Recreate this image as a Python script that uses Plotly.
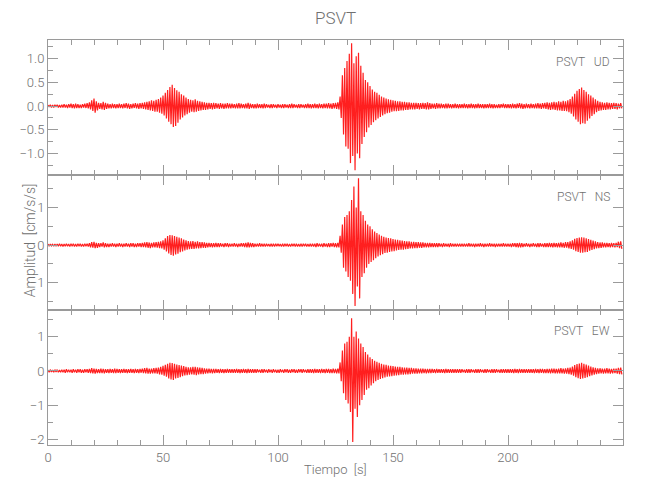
import plotly.graph_objects as go
from plotly.subplots import make_subplots

# ---- data: per-second peak (upper) and trough (lower magnitude) ----
time_s = list(range(250))

ud_upper = [
    0.02,0.03,0.02,0.03,0.03,0.02,0.03,0.04,0.03,0.04,
    0.05,0.04,0.05,0.04,0.03,0.04,0.05,0.06,0.08,0.12,
    0.16,0.10,0.07,0.06,0.09,0.07,0.05,0.04,0.05,0.04,
    0.04,0.05,0.04,0.05,0.06,0.05,0.04,0.05,0.06,0.05,
    0.06,0.07,0.08,0.09,0.10,0.12,0.11,0.13,0.15,0.18,
    0.22,0.28,0.34,0.40,0.45,0.38,0.33,0.30,0.25,0.22,
    0.18,0.15,0.13,0.12,0.14,0.11,0.10,0.09,0.08,0.07,
    0.07,0.06,0.07,0.06,0.05,0.06,0.05,0.05,0.06,0.05,
    0.05,0.04,0.05,0.06,0.05,0.04,0.05,0.07,0.05,0.04,
    0.04,0.05,0.04,0.04,0.05,0.04,0.03,0.04,0.04,0.03,
    0.04,0.03,0.04,0.04,0.03,0.04,0.05,0.04,0.03,0.04,
    0.04,0.03,0.04,0.05,0.04,0.04,0.05,0.04,0.05,0.04,
    0.05,0.05,0.06,0.05,0.06,0.07,0.08,0.20,0.65,0.80,
    0.95,1.10,1.32,0.90,1.05,1.12,0.85,0.70,0.55,0.50,
    0.42,0.35,0.30,0.28,0.24,0.20,0.18,0.16,0.14,0.13,
    0.12,0.11,0.10,0.10,0.09,0.09,0.08,0.08,0.07,0.07,
    0.07,0.06,0.06,0.07,0.06,0.08,0.06,0.05,0.05,0.06,
    0.05,0.05,0.04,0.05,0.05,0.04,0.04,0.05,0.04,0.04,
    0.04,0.05,0.04,0.04,0.05,0.04,0.04,0.05,0.04,0.04,
    0.04,0.04,0.05,0.04,0.04,0.03,0.04,0.04,0.05,0.04,
    0.04,0.04,0.05,0.04,0.05,0.06,0.05,0.04,0.05,0.04,
    0.05,0.04,0.05,0.06,0.05,0.06,0.07,0.08,0.07,0.08,
    0.09,0.08,0.10,0.09,0.11,0.10,0.12,0.15,0.20,0.26,
    0.32,0.36,0.39,0.34,0.30,0.25,0.22,0.18,0.14,0.11,
    0.09,0.08,0.07,0.08,0.07,0.06,0.07,0.06,0.05,0.06,
]
ud_lower = [
    0.02,0.03,0.03,0.02,0.03,0.03,0.03,0.03,0.04,0.03,
    0.04,0.05,0.04,0.04,0.04,0.03,0.04,0.05,0.07,0.10,
    0.14,0.09,0.06,0.07,0.08,0.06,0.05,0.05,0.04,0.05,
    0.04,0.04,0.05,0.04,0.05,0.06,0.05,0.04,0.05,0.06,
    0.05,0.06,0.07,0.08,0.09,0.10,0.12,0.12,0.14,0.16,
    0.20,0.26,0.33,0.38,0.44,0.42,0.35,0.28,0.24,0.20,
    0.17,0.14,0.12,0.13,0.12,0.10,0.09,0.08,0.08,0.07,
    0.06,0.07,0.06,0.05,0.06,0.05,0.06,0.05,0.05,0.05,
    0.04,0.05,0.05,0.05,0.04,0.05,0.05,0.06,0.04,0.05,
    0.05,0.04,0.04,0.05,0.04,0.03,0.04,0.04,0.03,0.04,
    0.03,0.04,0.04,0.03,0.04,0.04,0.04,0.03,0.04,0.04,
    0.03,0.04,0.04,0.04,0.05,0.04,0.04,0.05,0.04,0.05,
    0.04,0.05,0.05,0.06,0.05,0.06,0.07,0.25,0.60,0.85,
    0.90,1.20,1.05,1.35,1.00,1.10,0.80,0.65,0.55,0.45,
    0.40,0.34,0.30,0.26,0.23,0.20,0.17,0.15,0.14,0.12,
    0.11,0.11,0.10,0.09,0.09,0.08,0.08,0.07,0.07,0.07,
    0.06,0.07,0.06,0.06,0.07,0.07,0.06,0.05,0.06,0.05,
    0.05,0.04,0.05,0.05,0.04,0.05,0.04,0.04,0.05,0.04,
    0.04,0.04,0.05,0.04,0.04,0.05,0.04,0.04,0.04,0.05,
    0.04,0.04,0.04,0.05,0.04,0.04,0.04,0.03,0.04,0.04,
    0.04,0.05,0.04,0.05,0.04,0.05,0.06,0.05,0.04,0.05,
    0.04,0.05,0.05,0.05,0.06,0.05,0.06,0.07,0.08,0.07,
    0.08,0.09,0.09,0.10,0.10,0.11,0.13,0.16,0.22,0.28,
    0.33,0.38,0.36,0.37,0.31,0.26,0.21,0.17,0.13,0.10,
    0.09,0.08,0.08,0.07,0.07,0.06,0.06,0.07,0.05,0.05,
]
ns_upper = [
    0.03,0.03,0.02,0.03,0.03,0.04,0.03,0.03,0.04,0.03,
    0.04,0.04,0.03,0.04,0.04,0.03,0.04,0.04,0.05,0.08,
    0.09,0.06,0.05,0.05,0.07,0.05,0.04,0.04,0.05,0.04,
    0.04,0.05,0.04,0.04,0.05,0.04,0.05,0.05,0.04,0.05,
    0.05,0.06,0.07,0.08,0.07,0.06,0.07,0.08,0.09,0.10,
    0.13,0.18,0.24,0.27,0.26,0.24,0.22,0.20,0.18,0.15,
    0.13,0.11,0.10,0.11,0.09,0.10,0.08,0.08,0.07,0.06,
    0.06,0.05,0.05,0.06,0.05,0.05,0.04,0.05,0.05,0.04,
    0.04,0.05,0.04,0.04,0.05,0.05,0.06,0.07,0.06,0.05,
    0.04,0.04,0.05,0.04,0.04,0.04,0.03,0.04,0.04,0.04,
    0.04,0.03,0.04,0.04,0.04,0.03,0.04,0.04,0.04,0.03,
    0.04,0.04,0.04,0.03,0.04,0.04,0.04,0.05,0.04,0.04,
    0.05,0.04,0.05,0.05,0.06,0.05,0.06,0.25,0.55,0.75,
    0.80,0.90,1.20,1.56,1.00,1.78,0.90,0.80,0.65,0.55,
    0.50,0.42,0.36,0.32,0.28,0.25,0.22,0.20,0.19,0.18,
    0.16,0.15,0.14,0.13,0.12,0.11,0.10,0.10,0.09,0.09,
    0.08,0.08,0.07,0.07,0.06,0.06,0.06,0.05,0.05,0.05,
    0.05,0.04,0.05,0.04,0.04,0.05,0.04,0.04,0.04,0.04,
    0.04,0.04,0.04,0.05,0.04,0.04,0.04,0.04,0.05,0.04,
    0.04,0.04,0.05,0.04,0.04,0.04,0.04,0.04,0.05,0.04,
    0.04,0.04,0.05,0.05,0.05,0.06,0.05,0.04,0.05,0.04,
    0.04,0.05,0.04,0.05,0.05,0.04,0.05,0.05,0.06,0.05,
    0.06,0.05,0.06,0.07,0.06,0.08,0.08,0.10,0.13,0.17,
    0.19,0.20,0.21,0.20,0.18,0.16,0.14,0.12,0.10,0.08,
    0.07,0.07,0.06,0.06,0.05,0.06,0.05,0.06,0.09,0.10,
]
ns_lower = [
    0.03,0.02,0.03,0.03,0.03,0.03,0.04,0.03,0.03,0.04,
    0.03,0.04,0.04,0.03,0.04,0.04,0.03,0.04,0.06,0.07,
    0.08,0.07,0.05,0.04,0.06,0.05,0.05,0.04,0.04,0.05,
    0.04,0.04,0.05,0.04,0.04,0.05,0.04,0.05,0.05,0.04,
    0.05,0.05,0.06,0.07,0.08,0.06,0.06,0.07,0.08,0.09,
    0.12,0.17,0.22,0.26,0.28,0.25,0.23,0.19,0.17,0.14,
    0.12,0.11,0.10,0.10,0.09,0.09,0.08,0.07,0.07,0.06,
    0.05,0.06,0.05,0.05,0.05,0.04,0.05,0.04,0.05,0.04,
    0.04,0.04,0.05,0.04,0.04,0.05,0.06,0.06,0.05,0.05,
    0.04,0.04,0.04,0.04,0.04,0.03,0.04,0.04,0.04,0.03,
    0.03,0.04,0.04,0.03,0.04,0.04,0.03,0.04,0.04,0.04,
    0.04,0.03,0.04,0.04,0.04,0.04,0.05,0.04,0.04,0.05,
    0.04,0.05,0.05,0.04,0.05,0.06,0.06,0.20,0.60,0.70,
    0.85,0.95,1.30,1.62,1.10,1.42,0.85,0.75,0.60,0.50,
    0.45,0.40,0.35,0.30,0.27,0.24,0.21,0.20,0.18,0.17,
    0.16,0.14,0.13,0.12,0.12,0.11,0.10,0.09,0.09,0.08,
    0.08,0.07,0.07,0.06,0.06,0.06,0.05,0.05,0.05,0.05,
    0.04,0.05,0.04,0.04,0.05,0.04,0.04,0.04,0.04,0.04,
    0.04,0.04,0.04,0.04,0.04,0.05,0.04,0.04,0.04,0.05,
    0.04,0.04,0.04,0.04,0.05,0.04,0.04,0.04,0.04,0.04,
    0.04,0.05,0.04,0.05,0.06,0.06,0.05,0.04,0.04,0.05,
    0.04,0.04,0.05,0.05,0.04,0.05,0.05,0.05,0.05,0.06,
    0.05,0.06,0.06,0.06,0.07,0.07,0.09,0.10,0.12,0.16,
    0.18,0.20,0.20,0.19,0.18,0.15,0.13,0.11,0.09,0.08,
    0.07,0.06,0.06,0.05,0.06,0.05,0.06,0.05,0.08,0.10,
]
ew_upper = [
    0.03,0.04,0.03,0.04,0.04,0.03,0.04,0.04,0.05,0.04,
    0.04,0.05,0.04,0.05,0.05,0.04,0.05,0.05,0.06,0.08,
    0.07,0.06,0.05,0.07,0.06,0.05,0.05,0.06,0.05,0.07,
    0.06,0.05,0.05,0.06,0.05,0.05,0.06,0.05,0.06,0.05,
    0.06,0.07,0.08,0.09,0.07,0.07,0.08,0.09,0.10,0.12,
    0.15,0.18,0.21,0.24,0.23,0.21,0.19,0.17,0.16,0.14,
    0.12,0.11,0.11,0.12,0.12,0.11,0.10,0.09,0.08,0.07,
    0.07,0.06,0.06,0.06,0.05,0.06,0.05,0.05,0.06,0.05,
    0.05,0.05,0.06,0.05,0.05,0.06,0.05,0.06,0.05,0.05,
    0.05,0.05,0.04,0.05,0.05,0.04,0.05,0.04,0.05,0.04,
    0.04,0.05,0.04,0.05,0.05,0.04,0.05,0.05,0.04,0.05,
    0.05,0.05,0.04,0.05,0.05,0.05,0.06,0.05,0.05,0.06,
    0.05,0.06,0.06,0.05,0.07,0.06,0.07,0.25,0.60,0.80,
    0.85,1.00,1.54,1.00,1.15,0.95,0.80,0.70,0.55,0.48,
    0.40,0.35,0.30,0.27,0.24,0.21,0.19,0.18,0.16,0.15,
    0.14,0.13,0.12,0.12,0.11,0.10,0.10,0.09,0.09,0.08,
    0.08,0.07,0.07,0.07,0.06,0.06,0.06,0.06,0.05,0.06,
    0.05,0.05,0.05,0.06,0.05,0.05,0.05,0.05,0.05,0.05,
    0.05,0.04,0.05,0.05,0.05,0.04,0.05,0.05,0.05,0.04,
    0.05,0.05,0.04,0.05,0.05,0.05,0.04,0.05,0.05,0.05,
    0.05,0.05,0.05,0.06,0.05,0.06,0.05,0.05,0.05,0.05,
    0.05,0.05,0.06,0.05,0.06,0.06,0.05,0.06,0.06,0.07,
    0.07,0.06,0.07,0.08,0.07,0.08,0.09,0.10,0.13,0.17,
    0.20,0.22,0.24,0.21,0.19,0.16,0.13,0.11,0.09,0.08,
    0.08,0.07,0.07,0.08,0.07,0.06,0.07,0.07,0.09,0.10,
]
ew_lower = [
    0.04,0.03,0.04,0.03,0.04,0.04,0.04,0.05,0.04,0.04,
    0.05,0.04,0.05,0.04,0.05,0.05,0.04,0.05,0.06,0.07,
    0.08,0.06,0.06,0.06,0.07,0.05,0.06,0.05,0.06,0.06,
    0.05,0.06,0.05,0.05,0.06,0.05,0.05,0.06,0.05,0.06,
    0.05,0.06,0.07,0.08,0.08,0.07,0.07,0.08,0.10,0.11,
    0.14,0.17,0.22,0.25,0.26,0.22,0.20,0.18,0.15,0.13,
    0.12,0.11,0.10,0.11,0.12,0.10,0.09,0.09,0.08,0.07,
    0.06,0.07,0.06,0.05,0.06,0.05,0.06,0.05,0.05,0.05,
    0.05,0.05,0.05,0.06,0.05,0.05,0.06,0.05,0.05,0.05,
    0.05,0.04,0.05,0.05,0.04,0.05,0.04,0.05,0.04,0.05,
    0.05,0.04,0.05,0.04,0.05,0.05,0.04,0.05,0.05,0.04,
    0.05,0.04,0.05,0.05,0.05,0.06,0.05,0.05,0.06,0.05,
    0.06,0.05,0.06,0.06,0.06,0.07,0.07,0.30,0.65,0.85,
    0.95,1.20,2.07,1.10,1.34,1.00,0.85,0.70,0.55,0.50,
    0.42,0.36,0.30,0.26,0.23,0.21,0.19,0.17,0.16,0.15,
    0.14,0.13,0.12,0.11,0.11,0.10,0.10,0.09,0.08,0.08,
    0.08,0.07,0.07,0.06,0.07,0.06,0.06,0.05,0.06,0.05,
    0.05,0.05,0.06,0.05,0.05,0.05,0.05,0.05,0.05,0.05,
    0.04,0.05,0.05,0.05,0.04,0.05,0.05,0.05,0.04,0.05,
    0.05,0.04,0.05,0.05,0.05,0.04,0.05,0.05,0.05,0.05,
    0.05,0.05,0.06,0.05,0.06,0.05,0.05,0.05,0.05,0.05,
    0.05,0.06,0.05,0.06,0.05,0.06,0.06,0.06,0.07,0.06,
    0.07,0.07,0.07,0.07,0.08,0.08,0.09,0.11,0.14,0.18,
    0.21,0.23,0.22,0.20,0.18,0.15,0.13,0.11,0.09,0.08,
    0.07,0.08,0.07,0.07,0.08,0.07,0.06,0.08,0.09,0.10,
]

components = ["UD", "NS", "EW"]
station = "PSVT"
x_ticks = [0, 50, 100, 150, 200]

GREY_TXT = "#707070"
GREY_LN = "#9a9a9a"
FONT = "Roboto, Liberation Sans, sans-serif"


def trace_xy(upper, lower):
    xs, ys = [], []
    for t, u, l in zip(time_s, upper, lower):
        xs += [t, t + 0.5]
        ys += [u, -l]
    return xs, ys


fig = make_subplots(rows=3, cols=1, shared_xaxes=True, vertical_spacing=0)

for i, (up, lo) in enumerate([(ud_upper, ud_lower), (ns_upper, ns_lower), (ew_upper, ew_lower)]):
    xs, ys = trace_xy(up, lo)
    fig.add_trace(go.Scatter(x=xs, y=ys, mode="lines",
                             line=dict(color="rgba(255,0,0,0.88)", width=1.2),
                             showlegend=False, hoverinfo="skip"), row=i + 1, col=1)

tfont = dict(family=FONT, size=13, color=GREY_TXT, weight=300)
xcommon = dict(range=[0, 250], tickmode="array", tickvals=x_ticks, ticks="inside", ticklen=10,
               tickcolor=GREY_LN, showline=True, linecolor=GREY_LN, linewidth=1, mirror="allticks",
               showgrid=False, zeroline=False, automargin=False,
               minor=dict(dtick=10, ticks="inside", ticklen=5, tickcolor=GREY_LN, showgrid=False),
               tickfont=tfont)
for r in (1, 2, 3):
    fig.update_xaxes(row=r, col=1, **xcommon)

ycommon = dict(ticks="inside", ticklen=10, tickcolor=GREY_LN, showline=True, linecolor=GREY_LN,
               linewidth=1, mirror="allticks", showgrid=False, zeroline=False, automargin=False,
               tickfont=tfont)
fig.update_yaxes(row=1, col=1, range=[-1.45, 1.39], dtick=0.5, tick0=0, tickformat=".1f",
                 minor=dict(dtick=0.25, tick0=0, ticks="inside", ticklen=5, tickcolor=GREY_LN), **ycommon)
fig.update_yaxes(row=2, col=1, range=[-1.73, 1.87], dtick=1, tick0=0,
                 minor=dict(dtick=0.5, tick0=0, ticks="inside", ticklen=5, tickcolor=GREY_LN), **ycommon)
fig.update_yaxes(row=3, col=1, range=[-2.16, 1.78], dtick=1, tick0=0,
                 minor=dict(dtick=0.5, tick0=0, ticks="inside", ticklen=5, tickcolor=GREY_LN), **ycommon)

ann_font = dict(family=FONT, size=12, color=GREY_TXT, weight=300)
for comp, yp in zip(components, [0.946, 0.612, 0.281]):
    fig.add_annotation(x=0.98, y=yp, xref="paper", yref="paper", xanchor="right", yanchor="middle",
                       text=f"{station}\u00a0\u00a0\u00a0{comp}", showarrow=False, font=ann_font)

fig.add_annotation(x=-0.031, y=0.506, xref="paper", yref="paper", textangle=-90,
                   text="Amplitud\u00a0\u00a0[cm/s/s]", showarrow=False,
                   font=dict(family=FONT, size=14, color=GREY_TXT, weight=300),
                   xanchor="center", yanchor="middle")
fig.add_annotation(x=0.5, y=-0.06, xref="paper", yref="paper",
                   text="Tiempo\u00a0\u00a0[s]", showarrow=False,
                   font=dict(family=FONT, size=13, color=GREY_TXT, weight=300),
                   xanchor="center", yanchor="middle")
fig.add_annotation(x=0.5, y=1.0 + 22 / 405, xref="paper", yref="paper",
                   text=station, showarrow=False,
                   font=dict(family=FONT, size=17, color=GREY_TXT, weight=300),
                   xanchor="center", yanchor="middle")

# page body adds an 8px offset; margins compensate so the plot box lands at 48..623 x 40..445
fig.update_layout(
    width=650, height=500,
    margin=dict(l=40, r=35, t=32, b=63, autoexpand=False),
    paper_bgcolor="white", plot_bgcolor="white",
)

fig.write_html("out.html")
